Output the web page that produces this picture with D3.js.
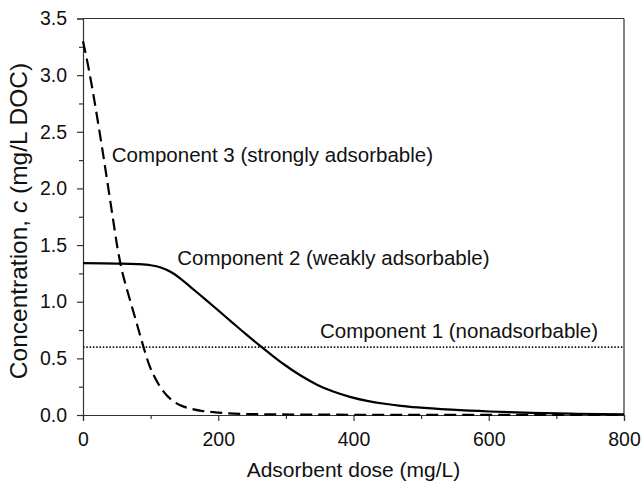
<!DOCTYPE html>
<html>
<head>
<meta charset="utf-8">
<script src="https://cdn.jsdelivr.net/npm/d3@7"></script>
<style>
  html, body { margin: 0; padding: 0; background: #fff; }
  svg { display: block; font-family: Arial, "Liberation Sans", Helvetica, sans-serif; }
</style>
</head>
<body>
<svg id="chart" width="641" height="485"></svg>
<script>
// ---- data ----
const xTicks = [0, 200, 400, 600, 800];
const xMinorTicks = [100, 300, 500, 700];
const yTicks = [0, 0.5, 1.0, 1.5, 2.0, 2.5, 3.0, 3.5];
const yMinorTicks = [0.25, 0.75, 1.25, 1.75, 2.25, 2.75, 3.25];

const comp1Dose = [0, 800];
const comp1Conc = [0.6, 0.6];

const comp2Dose = [0, 50, 80, 100, 115, 130, 145, 160, 180, 200, 220, 240, 262, 280, 297, 320, 346, 370, 396, 420, 446, 470, 495, 545, 601, 664, 730, 800];
const comp2Conc = [1.340, 1.337, 1.332, 1.322, 1.302, 1.262, 1.200, 1.125, 1.025, 0.923, 0.820, 0.718, 0.610, 0.525, 0.448, 0.355, 0.268, 0.207, 0.158, 0.125, 0.099, 0.081, 0.067, 0.047, 0.031, 0.019, 0.011, 0.006];

const comp3Dose = [0, 8, 15, 22, 29, 37, 44, 51, 57, 63, 70, 76, 82, 89, 98, 109, 118, 126, 135, 143, 160, 175, 193, 215, 242, 290, 350, 450, 600, 800];
const comp3Conc = [3.30, 3.07, 2.84, 2.59, 2.33, 2.02, 1.745, 1.475, 1.29, 1.15, 1.005, 0.88, 0.755, 0.61, 0.44, 0.30, 0.215, 0.16, 0.115, 0.088, 0.055, 0.037, 0.025, 0.015, 0.009, 0.005, 0.003, 0.002, 0.001, 0.001];

const labels = ["Component 1 (nonadsorbable)", "Component 2 (weakly adsorbable)", "Component 3 (strongly adsorbable)"];
const labelDose = [350.5, 139.4, 42.4];
const labelConc = [0.684, 1.324, 2.236];
const xTitle = "Adsorbent dose (mg/L)";

// ---- chart ----
const svg = d3.select("#chart");
const mLeft = 83, mRight = 624, mTop = 18.5, mBottom = 415;
const x = d3.scaleLinear().domain([0, 800]).range([mLeft, mRight]);
const y = d3.scaleLinear().domain([0, 3.5]).range([mBottom, mTop]);
const axisColor = "#333";
const tickFs = 19.5, annFs = 20.5, titleFs = 21, yTitleFs = 24.5;

// frame (top & right)
svg.append("line").attr("x1", mLeft).attr("x2", mRight).attr("y1", mTop).attr("y2", mTop)
  .attr("stroke", axisColor).attr("stroke-width", 1.2);
svg.append("line").attr("x1", mRight).attr("x2", mRight).attr("y1", mTop).attr("y2", mBottom)
  .attr("stroke", axisColor).attr("stroke-width", 1.2);

// x axis
svg.append("g").attr("transform", `translate(0,${mBottom})`)
  .call(d3.axisBottom(x).tickValues(xTicks).tickSize(6).tickPadding(11).tickFormat(d3.format("d")));
svg.append("g").attr("transform", `translate(0,${mBottom})`)
  .call(d3.axisBottom(x).tickValues(xMinorTicks).tickSize(4).tickFormat(""))
  .call(g => g.select(".domain").remove());

// y axis
svg.append("g").attr("transform", `translate(${mLeft},0)`)
  .call(d3.axisLeft(y).tickValues(yTicks).tickSize(6).tickPadding(10).tickFormat(d3.format(".1f")));
svg.append("g").attr("transform", `translate(${mLeft},0)`)
  .call(d3.axisLeft(y).tickValues(yMinorTicks).tickSize(4).tickFormat(""))
  .call(g => g.select(".domain").remove());

svg.selectAll(".domain").attr("stroke", axisColor).attr("stroke-width", 1.2);
svg.selectAll(".tick line").attr("stroke", axisColor).attr("stroke-width", 1.2);
svg.selectAll(".tick text").attr("font-size", tickFs).attr("fill", "#111")
  .attr("font-family", "Arial, 'Liberation Sans', sans-serif");

// curves
const line = d3.line().x(d => x(d[0])).y(d => y(d[1])).curve(d3.curveMonotoneX);
const plot = svg.append("g");

plot.append("path").datum(d3.zip(comp1Dose, comp1Conc))
  .attr("d", line).attr("fill", "none").attr("stroke", "#111")
  .attr("stroke-width", 1.8).attr("stroke-dasharray", "1.5,1.8");

plot.append("path").datum(d3.zip(comp2Dose, comp2Conc))
  .attr("d", line).attr("fill", "none").attr("stroke", "#000")
  .attr("stroke-width", 2.2);

plot.append("path").datum(d3.zip(comp3Dose, comp3Conc))
  .attr("d", line)
  .attr("fill", "none").attr("stroke", "#000")
  .attr("stroke-width", 2.2).attr("stroke-dasharray", "12,6");

// annotations
svg.append("g").attr("font-size", annFs).attr("fill", "#111")
  .selectAll("text").data(labels).join("text")
  .attr("x", (d, i) => x(labelDose[i]))
  .attr("y", (d, i) => y(labelConc[i]))
  .text(d => d);

// axis titles
svg.append("text").attr("x", (mLeft + mRight) / 2).attr("y", 476.5)
  .attr("text-anchor", "middle").attr("font-size", titleFs).attr("fill", "#111").text(xTitle);

const yt = svg.append("text")
  .attr("transform", `translate(26.5,221) rotate(-90)`)
  .attr("text-anchor", "middle").attr("font-size", yTitleFs).attr("fill", "#111");
yt.append("tspan").text("Concentration, ");
yt.append("tspan").attr("font-style", "italic").text("c");
yt.append("tspan").text(" (mg/L DOC)");
</script>
</body>
</html>
